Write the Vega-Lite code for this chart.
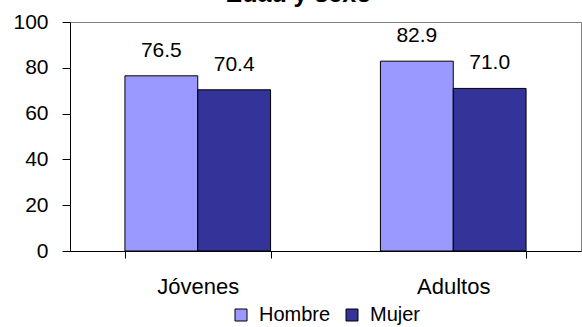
{
  "$schema": "https://vega.github.io/schema/vega-lite/v6.json",
  "width": 511,
  "height": 229,
  "autosize": {"type": "none"},
  "padding": {"left": 70, "top": 22, "right": 1, "bottom": 76},
  "background": "white",
  "title": {"text": "Edad y sexo", "font": "Liberation Sans", "fontSize": 25, "fontWeight": "bold", "color": "black", "offset": 4, "anchor": "middle", "dx": -27},
  "config": {
    "view": {"stroke": "#808080", "strokeWidth": 1},
    "font": "Liberation Sans",
    "legend": {"layout": {"bottom": {"anchor": "middle"}}}
  },
  "data": {"values": [
    {"grupo": "Jóvenes", "sexo": "Hombre", "valor": 76.5},
    {"grupo": "Jóvenes", "sexo": "Mujer", "valor": 70.4},
    {"grupo": "Adultos", "sexo": "Hombre", "valor": 82.9},
    {"grupo": "Adultos", "sexo": "Mujer", "valor": 71.0}
  ]},
  "encoding": {
    "x": {"field": "grupo", "type": "nominal", "sort": ["Jóvenes", "Adultos"],
      "scale": {"paddingInner": 0.43, "paddingOuter": 0.215},
      "axis": {"title": null, "labelAngle": 0, "labelFontSize": 22, "labelColor": "black", "labelPadding": 18, "domainColor": "black", "tickColor": "black", "tickBand": "extent", "tickSize": 7, "labelFont": "Liberation Sans"}},
    "xOffset": {"field": "sexo", "type": "nominal", "sort": ["Hombre", "Mujer"], "scale": {"paddingInner": 0, "paddingOuter": 0}},
    "y": {"field": "valor", "type": "quantitative", "scale": {"domain": [0, 100]},
      "axis": {"title": null, "values": [0, 20, 40, 60, 80, 100], "grid": false, "labelFontSize": 21, "labelColor": "black", "domainColor": "black", "tickColor": "black", "tickSize": 8, "labelPadding": 14, "labelFont": "Liberation Sans"}}
  },
  "layer": [
    {"mark": {"type": "bar", "stroke": "black", "strokeWidth": 1},
     "encoding": {
       "color": {"field": "sexo", "type": "nominal", "sort": ["Hombre", "Mujer"],
         "scale": {"domain": ["Hombre", "Mujer"], "range": ["#9999FF", "#333399"]},
         "legend": {"title": null, "orient": "bottom", "direction": "horizontal", "symbolType": "square", "symbolSize": 144, "symbolStrokeColor": "black", "symbolStrokeWidth": 1, "labelFontSize": 20, "labelColor": "black", "labelFont": "Liberation Sans", "offset": 8, "columnPadding": 11, "labelOffset": 8, "padding": 0}}
     }},
    {"mark": {"type": "text", "baseline": "alphabetic", "dy": -19, "fontSize": 21, "color": "black", "font": "Liberation Sans"},
     "encoding": {"text": {"field": "valor", "type": "quantitative", "format": ".1f"}}}
  ]
}
